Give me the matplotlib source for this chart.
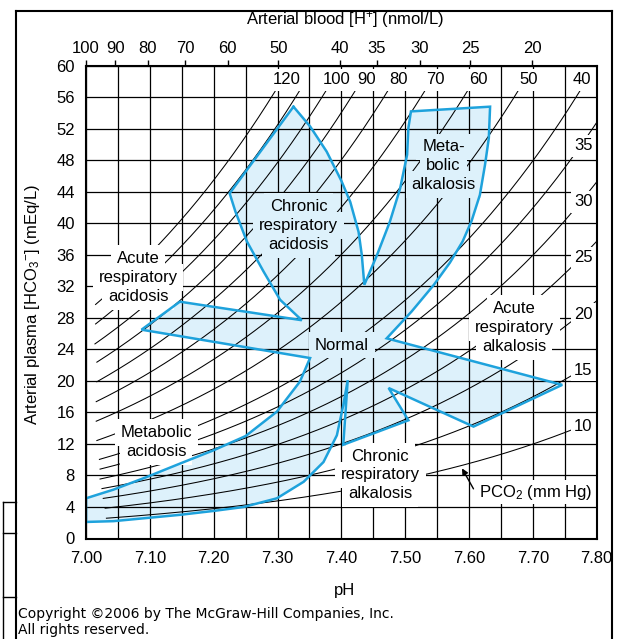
import numpy as np
import matplotlib.pyplot as plt
from matplotlib.lines import Line2D

plt.rcParams['font.family'] = ['Liberation Sans', 'DejaVu Sans']
plt.rcParams['mathtext.fontset'] = 'custom'
plt.rcParams['mathtext.rm'] = 'Liberation Sans'
plt.rcParams['mathtext.it'] = 'Liberation Sans:italic'
plt.rcParams['mathtext.bf'] = 'Liberation Sans:bold'

# PCO2 isopleths (mm Hg) and where each one starts on the left (pH)
pco2 = [120, 110, 100, 90, 80, 70, 60, 50, 40, 35, 30, 25, 20, 15, 10]
pco2_start = [7.015, 7.015, 7.014, 7.017, 7.017, 7.016, 7.016, 7.017,
              7.021, 7.022, 7.022, 7.025, 7.027, 7.030, 7.032]
top_labels = [120, 100, 90, 80, 70, 60, 50, 40]
side_labels = [35, 30, 25, 20, 15, 10]

# top axis: arterial [H+] in nmol/L
h_ticks = [100, 90, 80, 70, 60, 50, 40, 35, 30, 25, 20]

# outline of the shaded acid-base bands (pH, HCO3-), clockwise from the
# apex of chronic respiratory acidosis
band_ph = [7.325, 7.351, 7.377, 7.400, 7.414, 7.427, 7.432, 7.436,
           7.456, 7.476, 7.492, 7.503, 7.505, 7.509,
           7.633, 7.631, 7.625, 7.617, 7.604, 7.590, 7.570, 7.545, 7.510, 7.471,
           7.746, 7.607, 7.474,
           7.505, 7.403, 7.410,
           7.403, 7.393, 7.372, 7.341, 7.299, 7.247, 7.200, 7.147, 7.095, 7.043, 7.000,
           7.000, 7.043, 7.095, 7.147, 7.200, 7.250, 7.299, 7.335, 7.351,
           7.087, 7.147, 7.338,
           7.304, 7.278, 7.252, 7.234, 7.225]
band_hco3 = [54.8, 52.3, 49.1, 45.4, 42.7, 38.9, 36.0, 32.2,
             36.0, 40.2, 44.4, 48.7, 52.1, 54.2,
             54.8, 50.8, 47.4, 43.6, 40.3, 37.7, 35.0, 32.2, 28.8, 25.4,
             19.5, 14.2, 19.1,
             15.0, 11.9, 20.1,
             16.9, 13.1, 9.7, 7.2, 5.1, 4.0, 3.5, 3.0, 2.6, 2.2, 2.1,
             5.1, 6.2, 7.8, 9.5, 11.2, 13.0, 16.1, 19.9, 22.9,
             26.5, 30.05, 27.7,
             30.3, 33.9, 37.7, 41.5, 43.8]

band_edge = '#1ea2dc'
band_fill = '#ddf1fb'


def hco3_at(ph, p):
    return 0.0301 * p * 10 ** (ph - 6.1)


def ph_at(hco3, p):
    return 6.1 + np.log10(hco3 / (0.0301 * p))


fig = plt.figure(figsize=(6.21, 6.39), dpi=100)
ax = fig.add_axes([86 / 621, 100.5 / 639, 510.7 / 621, 472.8 / 639])
ax.set_xlim(7.0, 7.8)
ax.set_ylim(0, 60)

# grid
ax.set_xticks(np.arange(7.0, 7.801, 0.1))
ax.set_xticklabels([f'{v:.2f}' for v in np.arange(7.0, 7.801, 0.1)])
ax.set_xticks(np.arange(7.05, 7.8, 0.1), minor=True)
ax.set_yticks(range(0, 61, 4))
ax.set_axisbelow(False)
ax.grid(True, which='both', color='black', lw=0.9)
ax.tick_params(which='both', length=0, labelsize=12)
ax.tick_params(axis='x', pad=9)
ax.tick_params(axis='y', pad=8)
for s in ax.spines.values():
    s.set_linewidth(1.5)
    s.set_zorder(6)

# shaded bands
ax.fill(band_ph, band_hco3, color=band_fill, lw=0, zorder=1)
ax.plot(band_ph + band_ph[:1], band_hco3 + band_hco3[:1], color=band_edge,
        lw=1.8, zorder=5, solid_joinstyle='miter')

# PCO2 isopleths
for p, start in zip(pco2, pco2_start):
    end = min(ph_at(57.5, p), 7.8)
    ph = np.linspace(start, end, 200)
    ax.plot(ph, hco3_at(ph, p), color='black', lw=0.75, zorder=3)

box_w = dict(boxstyle='square,pad=0.2', fc='white', ec='none')
for p in top_labels:
    x = min(ph_at(57.5, p) + 0.012, 7.777)
    ax.text(x, 58.2, str(p), ha='center', va='center', fontsize=12,
            bbox=box_w, zorder=4)
for p in side_labels:
    ax.text(7.779, hco3_at(7.775, p), str(p), ha='center', va='center',
            fontsize=12, bbox=box_w, zorder=4)


def region_label(x, y, lines, face):
    # knock out the grid behind each text line first, then write the text
    n = len(lines)
    for i, s in enumerate(lines):
        off = (0, ((n - 1) / 2 - i) * 13.6)
        ax.annotate(s, (x, y), xytext=off, textcoords='offset points',
                    ha='center', va='center', fontsize=12, color='none',
                    zorder=4,
                    bbox=dict(boxstyle='square,pad=0.35', fc=face, ec='none'))
        ax.annotate(s, (x, y), xytext=off, textcoords='offset points',
                    ha='center', va='center', fontsize=12, color='black',
                    zorder=4.5)


region_label(7.560, 47.3, ['Meta-', 'bolic', 'alkalosis'], band_fill)
region_label(7.333, 39.7, ['Chronic', 'respiratory', 'acidosis'], band_fill)
region_label(7.0815, 33.1, ['Acute', 'respiratory', 'acidosis'], 'white')
region_label(7.401, 24.55, ['Normal'], band_fill)
region_label(7.671, 26.8, ['Acute', 'respiratory', 'alkalosis'], 'white')
region_label(7.110, 12.25, ['Metabolic', 'acidosis'], 'white')
region_label(7.461, 8.06, ['Chronic', 'respiratory', 'alkalosis'], 'white')

ax.text(7.704, 5.9, 'P$\\mathregular{CO_2}$ (mm Hg)', ha='center', va='center',
        fontsize=12, bbox=dict(boxstyle='square,pad=0.15', fc='white', ec='none'),
        zorder=4)
ax.annotate('', xy=(7.589, 8.9), xytext=(7.607, 6.3),
            arrowprops=dict(arrowstyle='-|>', color='black', lw=1.0,
                            mutation_scale=9, shrinkA=0, shrinkB=0),
            zorder=4)

# top axis in [H+]
ax2 = ax.twiny()
ax2.set_xlim(7.0, 7.8)
ax2.set_xticks([9 - np.log10(h) for h in h_ticks])
ax2.set_xticklabels([str(h) for h in h_ticks])
ax2.tick_params(axis='x', direction='out', length=4, width=1, pad=3, labelsize=12)
for s in ax2.spines.values():
    s.set_visible(False)

fig.text(345 / 621, 1 - 20 / 639, 'Arterial blood [H$^\\mathregular{+}$] (nmol/L)',
         ha='center', va='center', fontsize=12)
fig.text(345 / 621, 1 - 590 / 639, 'pH', ha='center', va='center', fontsize=12)
fig.text(33 / 621, 1 - 305 / 639,
         'Arterial plasma [HCO$_\\mathregular{3}$$^{\\mathregular{\u2212}}$] (mEq/L)',
         ha='center', va='center', rotation=90, fontsize=12)

# page frame and copyright
frame = dict(color='black', lw=1.5, transform=fig.transFigure)
fig.add_artist(Line2D([16 / 621, 612 / 621], [1 - 11 / 639] * 2, **frame))
fig.add_artist(Line2D([16 / 621] * 2, [1 - 11 / 639, 0], **frame))
fig.add_artist(Line2D([612 / 621] * 2, [1 - 11 / 639, 0], **frame))
thin = dict(color='black', lw=1.0, transform=fig.transFigure)
fig.add_artist(Line2D([3 / 621] * 2, [1 - 502 / 639, 0], **thin))
for yy in (502, 533, 597):
    fig.add_artist(Line2D([3 / 621, 16 / 621], [1 - yy / 639] * 2, **thin))

fig.text(18 / 621, 1 - 614 / 639, 'Copyright \u00a92006 by The McGraw-Hill Companies, Inc.',
         family='DejaVu Sans', fontsize=10, va='center')
fig.text(18 / 621, 1 - 630 / 639, 'All rights reserved.',
         family='DejaVu Sans', fontsize=10, va='center')

fig.savefig('out.png', dpi=100)
